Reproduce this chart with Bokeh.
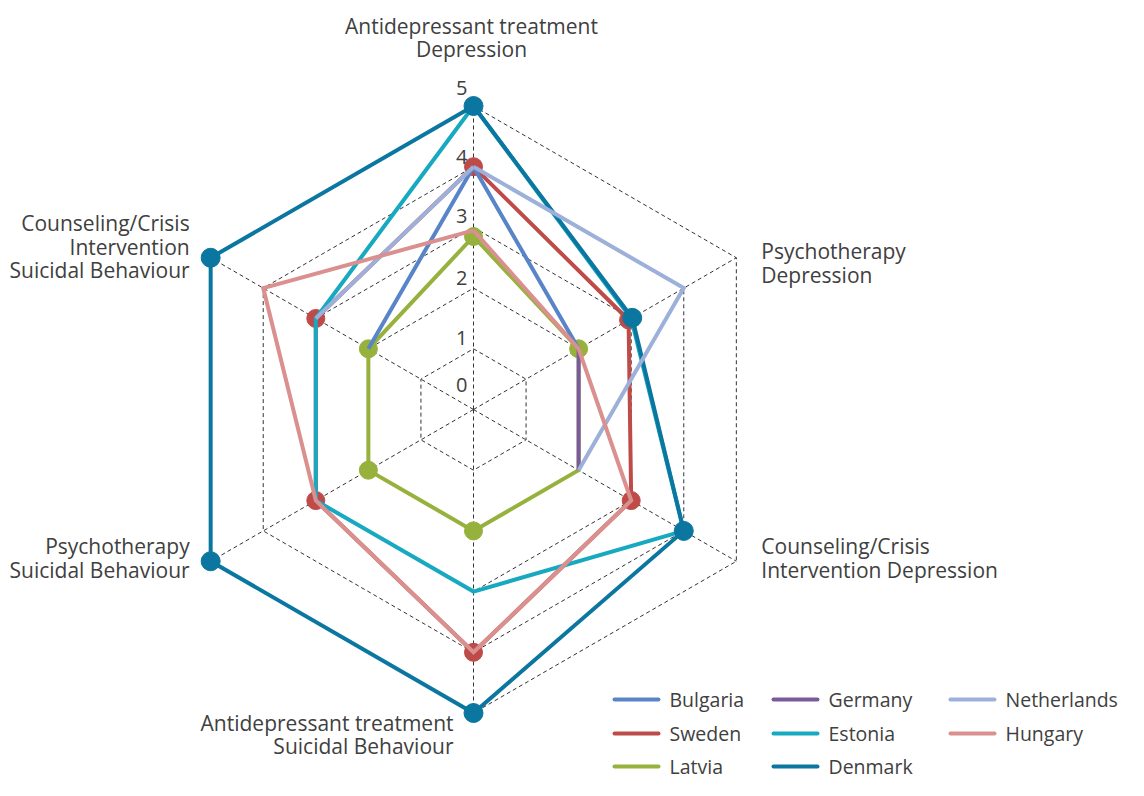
import numpy as np
from bokeh.plotting import figure
from bokeh.models import Range1d
from bokeh.embed import file_html
from bokeh.resources import INLINE
from bokeh.core.properties import value

nan = float("nan")

# ---------------- data ----------------
categories = [
    "Antidepressant treatment\nDepression",
    "Psychotherapy\nDepression",
    "Counseling/Crisis\nIntervention Depression",
    "Antidepressant treatment\nSuicidal Behaviour",
    "Psychotherapy\nSuicidal Behaviour",
    "Counseling/Crisis\nIntervention\nSuicidal Behaviour",
]
levels = [0, 1, 2, 3, 4, 5]
tick_labels = ["0", "1", "2", "3", "4", "5"]

bulgaria = [4, 2, nan, nan, nan, 2]
sweden = [4, 2.95, 3, 4, 3, 3]
latvia = [2.85, 2, 2, 2, 2, 2]
germany = [nan, 2, 2, nan, nan, nan]
estonia = [5, 3, 4, 3, 3, 3]
denmark = [5, 3.02, 4, 5, 5, 5]
netherlands = [4, 4, 2, nan, nan, 3]
hungary = [2.95, 2, 3, 4, 3, 4]

legend_order = ["Bulgaria", "Germany", "Netherlands",
                "Sweden", "Estonia", "Hungary",
                "Latvia", "Denmark"]

# ---------------- styles ----------------
colors = {
    "Bulgaria": "#5884C8", "Sweden": "#BE4B48", "Latvia": "#97B13D",
    "Germany": "#7A5A9A", "Estonia": "#17A9C0", "Denmark": "#0B77A0",
    "Netherlands": "#9DB0DA", "Hungary": "#D9908E",
}
series = [  # drawing order
    ("Sweden", sweden, [True] * 6),
    ("Latvia", latvia, [True, True, False, True, True, True]),
    ("Bulgaria", bulgaria, None),
    ("Germany", germany, None),
    ("Estonia", estonia, None),
    ("Denmark", denmark, [True] * 6),
    ("Netherlands", netherlands, None),
    ("Hungary", hungary, None),
]

W, H = 1128, 780
CX, CY, R = 473.0, 409.0, 60.7
FONT = "Open Sans"
TXT = "#404040"

p = figure(width=W, height=H, x_range=Range1d(0, W), y_range=Range1d(H, 0),
           output_backend="svg", toolbar_location=None,
           x_axis_location=None, y_axis_location=None, min_border=0,
           outline_line_color=None, background_fill_color="white")
p.grid.visible = False

ang = np.arange(6) * np.pi / 3.0


def polar(vals):
    v = np.asarray(vals, dtype=float)
    return CX + R * v * np.sin(ang), CY - R * v * np.cos(ang)


def closed(a):
    return np.append(a, a[0])


# grid hexagons and spokes
for lv in levels[1:]:
    gx, gy = polar([lv] * 6)
    p.line(closed(gx), closed(gy), line_color="#333333", line_width=1, line_dash="4 3")
ex, ey = polar([levels[-1]] * 6)
p.segment(x0=[CX] * 6, y0=[CY] * 6, x1=ex, y1=ey, line_color="#333333",
          line_width=1, line_dash="4 3")

# series
for name, vals, mask in series:
    sx, sy = polar(vals)
    p.line(closed(sx), closed(sy), line_color=colors[name], line_width=4,
           line_join="miter")
    if mask is not None:
        mx = [x for x, m in zip(sx, mask) if m]
        my = [y for y, m in zip(sy, mask) if m]
        p.scatter(mx, my, size=19 if name == "Denmark" else 18,
                  fill_color=colors[name], line_color=colors[name])

# tick labels
tick_off = [24.5, 10.5, 10, 11.5, 9.5, 18]
p.text(x=[CX - 6] * 6, y=[CY - R * lv - o for lv, o in zip(levels, tick_off)],
       text=tick_labels, text_align="right", text_baseline="middle",
       text_font=value(FONT), text_font_size="20px", text_color=TXT)

# category labels
lab_off = [(-2, -68.5), (25, 5), (25, -3), (-20, 21.5), (-21, -3), (-21, -11)]
lab_align = ["center", "left", "left", "right", "right", "right"]
for i, cat in enumerate(categories):
    dx, dy = lab_off[i]
    p.text(x=[ex[i] + dx], y=[ey[i] + dy], text=[cat], text_align=lab_align[i],
           text_baseline="middle", text_font=value(FONT), text_font_size="21px",
           text_color=TXT, text_line_height=0.84)

# legend
col_x = [614, 773, 950]
row_y = [699, 733, 766]
for k, name in enumerate(legend_order):
    lx, ly = col_x[k % 3], row_y[k // 3]
    p.segment(x0=[lx], y0=[ly], x1=[lx + 44], y1=[ly], line_color=colors[name],
              line_width=4, line_cap="round")
    p.text(x=[lx + 55], y=[ly], text=[name], text_align="left", text_baseline="middle",
           text_font=value(FONT), text_font_size="19.5px", text_color=TXT)

open("out.html", "w").write(file_html(p, INLINE))
